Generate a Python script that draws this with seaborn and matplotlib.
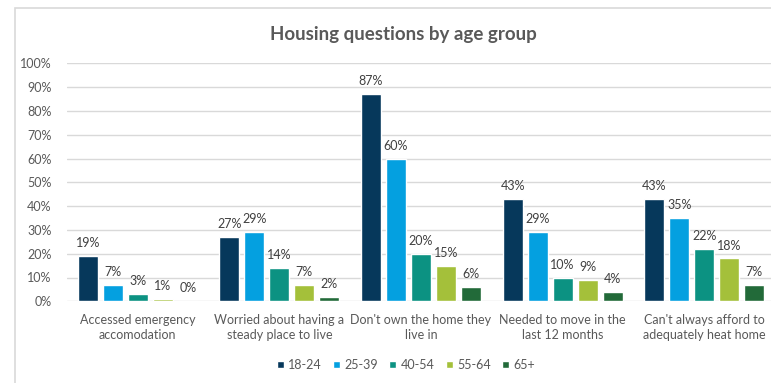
import matplotlib
matplotlib.use("Agg")
import matplotlib.pyplot as plt
from matplotlib.patches import Rectangle
from matplotlib.ticker import FuncFormatter
import pandas as pd
import seaborn as sns

questions = [
    "Accessed emergency\naccomodation",
    "Worried about having a\nsteady place to live",
    "Don't own the home they\nlive in",
    "Needed to move in the\nlast 12 months",
    "Can't always afford to\nadequately heat home",
]
age_groups = ["18-24", "25-39", "40-54", "55-64", "65+"]
pct_18_24 = [19, 27, 87, 43, 43]
pct_25_39 = [7, 29, 60, 29, 35]
pct_40_54 = [3, 14, 20, 10, 22]
pct_55_64 = [1, 7, 15, 9, 18]
pct_65_plus = [0, 2, 6, 4, 7]
y_ticks = [0, 10, 20, 30, 40, 50, 60, 70, 80, 90, 100]

palette = ["#06385B", "#04A0E0", "#0C9282", "#A4C03A", "#226A39"]

series = [pct_18_24, pct_25_39, pct_40_54, pct_55_64, pct_65_plus]
rows = []
for grp, vals in zip(age_groups, series):
    for q, v in zip(questions, vals):
        rows.append({"question": q, "age": grp, "pct": v})
df = pd.DataFrame(rows)

sns.set_style("white")
plt.rcParams["font.family"] = ["Lato", "DejaVu Sans"]

W, H = 771, 383
fig = plt.figure(figsize=(W / 100, H / 100), dpi=100)
ax = fig.add_axes([67 / W, (H - 301.3) / H, 708 / W, 238 / H])

sns.barplot(data=df, x="question", y="pct", hue="age", order=questions,
            hue_order=age_groups, palette=palette, width=0.883, gap=0.2,
            saturation=1, errorbar=None, ax=ax, zorder=3)

ax.set_ylim(0, 100)
ax.set_yticks(y_ticks)
ax.yaxis.set_major_formatter(FuncFormatter(lambda v, _: f"{v:.0f}%"))
ax.grid(axis="y", color="#D9D9D9", linewidth=1, zorder=0)
ax.set_axisbelow(True)
for s in ax.spines.values():
    s.set_visible(False)
ax.set_xlabel("")
ax.set_ylabel("")
ax.tick_params(axis="both", length=0, colors="#595959", labelsize=9)
ax.tick_params(axis="x", pad=9)
ax.tick_params(axis="y", pad=11)
for lbl in ax.get_xticklabels():
    lbl.set_linespacing(1.35)

for cont, vals in zip(ax.containers, series):
    ax.bar_label(cont, labels=[f"{v}%" for v in vals], padding=5,
                 fontsize=9, color="#404040")

sns.move_legend(ax, "center", bbox_to_anchor=(406 / W, 1 - 365 / H),
                bbox_transform=fig.transFigure, ncol=5, frameon=False,
                title=None, fontsize=9, handlelength=0.55, handleheight=0.55,
                handletextpad=0.35, columnspacing=0.9)
for t in ax.get_legend().get_texts():
    t.set_color("#595959")

fig.text(403 / W, 1 - 40 / H, "Housing questions by age group", ha="center",
         va="baseline", fontsize=13.5, fontweight="bold", color="#595959")

fig.add_artist(Rectangle((15 / W, -0.02), 1.0, 1 - 8 / H + 0.02,
                         transform=fig.transFigure, fill=False,
                         edgecolor="#D9D9D9", linewidth=1.2))

fig.savefig("out.png", dpi=100)
